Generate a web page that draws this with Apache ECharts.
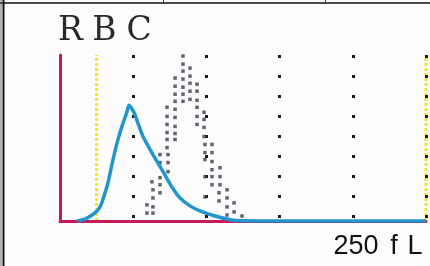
<!DOCTYPE html>
<html>
<head>
<meta charset="utf-8">
<script src="https://cdn.jsdelivr.net/npm/echarts@6/dist/echarts.min.js"></script>
<style>html,body{margin:0;padding:0;background:#fcfcfc}#c{width:430px;height:266px}</style>
</head>
<body>
<div id="c"></div>
<script>
// RBC volume histogram (fL on x, relative count on y)
const xTicks = [0, 50, 100, 150, 200, 250];
const thresholdLines = [25, 250];
const titleLetters = ['R', 'B', 'C'];
const unitLabel = ['250', 'f', 'L'];

// patient curve (blue)
const curveFL  = [11.6, 17.1, 21.9, 25.3, 28.0, 30.1, 32.8, 36.2, 39.6, 42.3, 45.8, 47.1, 50.5, 53.3, 56.7, 63.5, 70.4, 77.2, 82.0, 88.8, 95.6, 105.9, 119.5, 150, 200, 250];
const curveVal = [0,    1.2,  3.6,  6.1,  9.7,  15.2, 23,   37,   49,   57,   66,   69.7, 65.5, 58.8, 50.9, 40.0, 29.7, 19.4, 13.9, 9.1,  6.1,  3.0,   0.3,   0,   0,   0];

// reference distribution (dotted)
const refFL  = [59.4,59.4,63.5,63.5,63.5,63.5,62.8,68.3,68.3,68.3,68.3,68.3,73.8,73.8,73.8,73.1,73.1,78.6,73.1,73.1,73.1,73.1,78.6,78.6,78.6,78.6,78.6,78.6,78.6,78.6,
  84.0,84.0,84.0,84.0,84.0,84.0,84.0, 88.8,88.8,88.8,88.8,88.8, 93.6,93.6,93.6,93.6,93.6,93.6,
  98.4,98.4,98.4,98.4,99.0,99.0,99.0,99.0,99.0, 103.8,103.8,103.8,103.8,103.8,103.8, 108.6,108.6,109.3,109.3,109.3, 114.1,114.1,114.1,114.1, 118.9,118.9, 124.3];
const refVal = [4.8,9.7,4.8,8.5,13.9,18.8,23.6,17.0,21.8,26.1,35.2,40.0,29.7,35.2,40.0,44.2,49.1,49.1,53.3,58.2,63.0,68.5,52.7,57.0,62.4,67.3,72.1,76.4,81.2,86.1,
  99.4,94.5,90.3,85.5,80.6,76.4,72.1, 92.1,87.3,83.0,78.2,73.3, 82.4,78.2,72.7,68.5,63.0,58.2,
  65.5,61.2,56.4,50.9,46.1,41.2,37.0,26.7,14.5, 46.1,41.2,35.8,30.9,26.7,21.8, 17.0,12.1,32.1,26.7,21.8, 18.8,13.9,8.5,3.6, 10.9,5.5, 3.0];

const chart = echarts.init(document.getElementById('c'), null, {renderer: 'canvas'});
const red = '#c21a5c';
const ink = '#1a1a1a';
const letterX = [70.5, 104.5, 139];
const unitX = [356, 394, 415];
const graphics = [
  {type: 'line', shape: {x1: 0, y1: 3, x2: 430, y2: 3}, style: {stroke: '#111', lineWidth: 1.5}},
  {type: 'line', shape: {x1: 3.5, y1: 0, x2: 3.5, y2: 266}, style: {stroke: '#111', lineWidth: 2}},
  {type: 'line', shape: {x1: 1, y1: 0, x2: 1, y2: 266}, style: {stroke: '#666', lineWidth: 1}},
  {type: 'line', shape: {x1: 163.5, y1: 0, x2: 163.5, y2: 3}, style: {stroke: '#333', lineWidth: 1}},
  {type: 'line', shape: {x1: 325.5, y1: 0, x2: 325.5, y2: 3}, style: {stroke: '#333', lineWidth: 1}}
];
titleLetters.forEach((t, i) => graphics.push({
  type: 'text', style: {text: t, x: letterX[i], y: 31, align: 'center', verticalAlign: 'middle',
    font: '400 33px "DejaVu Serif"', fill: '#2a2a2a'}
}));
unitLabel.forEach((t, i) => graphics.push({
  type: 'text', style: {text: t, x: unitX[i], y: 247, align: 'center', verticalAlign: 'middle',
    font: '400 27px "Liberation Sans"', fill: '#111'}
}));

chart.setOption({
  backgroundColor: '#fcfcfc',
  animation: false,
  grid: {left: 60, right: 4, top: 55, bottom: 45},
  xAxis: {
    type: 'value', min: xTicks[0], max: xTicks[xTicks.length - 1], interval: 50,
    axisLine: {show: true, lineStyle: {color: red, width: 3}},
    axisTick: {show: false}, axisLabel: {show: false},
    splitLine: {show: true, showMinLine: false, showMaxLine: true, lineStyle: {color: ink, width: 3, type: [3, 17]}}
  },
  yAxis: {
    type: 'value', min: 0, max: 100,
    axisLine: {show: true, lineStyle: {color: red, width: 3}},
    axisTick: {show: false}, axisLabel: {show: false}, splitLine: {show: false}
  },
  graphic: graphics,
  series: thresholdLines.map(v => ({
      type: 'line', z: -1, silent: true, clip: false, showSymbol: false,
      lineStyle: {color: '#f2e52a', width: 3, type: [3, 2]},
      data: [[v, 0], [v, 100]]
    })).concat([
    {
      type: 'scatter', symbol: 'rect', symbolSize: 3.5,
      itemStyle: {color: '#3c3c50'},
      data: refFL.map((f, i) => [f, refVal[i]])
    },
    {
      type: 'line', smooth: 0.2, showSymbol: false,
      lineStyle: {color: '#1f96cc', width: 3.5},
      data: curveFL.map((f, i) => [f, curveVal[i]])
    }
  ])
});
</script>
</body>
</html>
